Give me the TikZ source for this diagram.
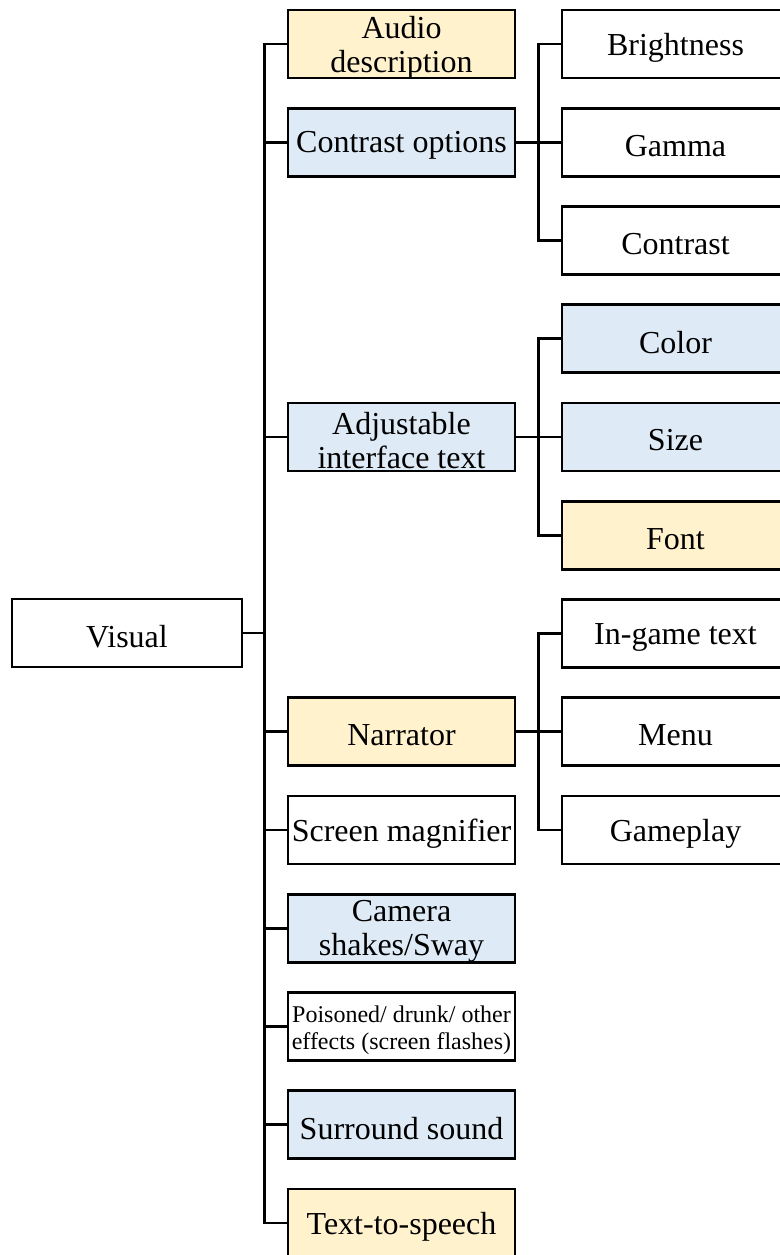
\documentclass[tikz,border=0pt]{standalone}
\usepackage{fontspec}
\setmainfont{Liberation Serif}
\definecolor{boxyellow}{HTML}{FFF2CC}
\definecolor{boxblue}{HTML}{DEEBF7}
\begin{document}
\begin{tikzpicture}[x=1pt,y=-1pt,
  box/.style={draw=black,line width=2.8pt,minimum width=227pt,minimum height=68pt,inner sep=0pt},
  lbl/.style={inner sep=0pt,align=center,font=\fontsize{32}{34}\selectfont},
  small/.style={font=\fontsize{24}{27}\selectfont},
  yel/.style={fill=boxyellow},
  blu/.style={fill=boxblue},
  conn/.style={line width=2.8pt,line join=miter}]
\useasboundingbox (0,0) rectangle (779,1255);
\def\rowy#1{44+98.25*#1}
% \bx{name}{x}{y}{box options}{label options}{text}
\newcommand\bx[6]{%
  \node[box,#4] (#1) at (#2,{#3}) {};
  \node[lbl,#5] (#1-t) at (#2,{#3+3.5}) {#6};}
% root
\bx{visual}{127}{633}{minimum width=230pt}{}{Visual}
% middle column
\bx{audio}{401.5}{\rowy{0}}{yel}{}{Audio\\description}
\bx{contrastopt}{401.5}{\rowy{1}}{blu}{}{Contrast options}
\bx{adjust}{401.5}{\rowy{4}}{blu}{}{Adjustable\\interface text}
\bx{narrator}{401.5}{\rowy{7}}{yel}{}{Narrator}
\bx{magnifier}{401.5}{\rowy{8}}{}{}{Screen magnifier}
\bx{camera}{401.5}{\rowy{9}}{blu}{}{Camera\\shakes/Sway}
\bx{poisoned}{401.5}{\rowy{10}}{}{small}{Poisoned/ drunk/ other\\effects (screen flashes)}
\bx{surround}{401.5}{\rowy{11}}{blu}{}{Surround sound}
\bx{tts}{401.5}{\rowy{12}}{yel}{}{Text-to-speech}
% right column
\bx{brightness}{675.5}{\rowy{0}}{}{}{Brightness}
\bx{gamma}{675.5}{\rowy{1}}{}{}{Gamma}
\bx{contrast}{675.5}{\rowy{2}}{}{}{Contrast}
\bx{color}{675.5}{\rowy{3}}{blu}{}{Color}
\bx{size}{675.5}{\rowy{4}}{blu}{}{Size}
\bx{font}{675.5}{\rowy{5}}{yel}{}{Font}
\bx{ingame}{675.5}{\rowy{6}}{}{}{In-game text}
\bx{menu}{675.5}{\rowy{7}}{}{}{Menu}
\bx{gameplay}{675.5}{\rowy{8}}{}{}{Gameplay}
% connectors
\coordinate (t0) at (264.5,633);
\draw[conn] (visual.east) -- (t0);
\foreach \n in {audio,contrastopt,adjust,narrator,magnifier,camera,poisoned,surround,tts}
  \draw[conn] (t0) |- (\n.west);
\coordinate (t1) at (538.5,{\rowy{1}});
\draw[conn] (contrastopt.east) -- (t1);
\foreach \n in {brightness,gamma,contrast}
  \draw[conn] (t1) |- (\n.west);
\coordinate (t2) at (538.5,{\rowy{4}});
\draw[conn] (adjust.east) -- (t2);
\foreach \n in {color,size,font}
  \draw[conn] (t2) |- (\n.west);
\coordinate (t3) at (538.5,{\rowy{7}});
\draw[conn] (narrator.east) -- (t3);
\foreach \n in {ingame,menu,gameplay}
  \draw[conn] (t3) |- (\n.west);
\end{tikzpicture}
\end{document}
